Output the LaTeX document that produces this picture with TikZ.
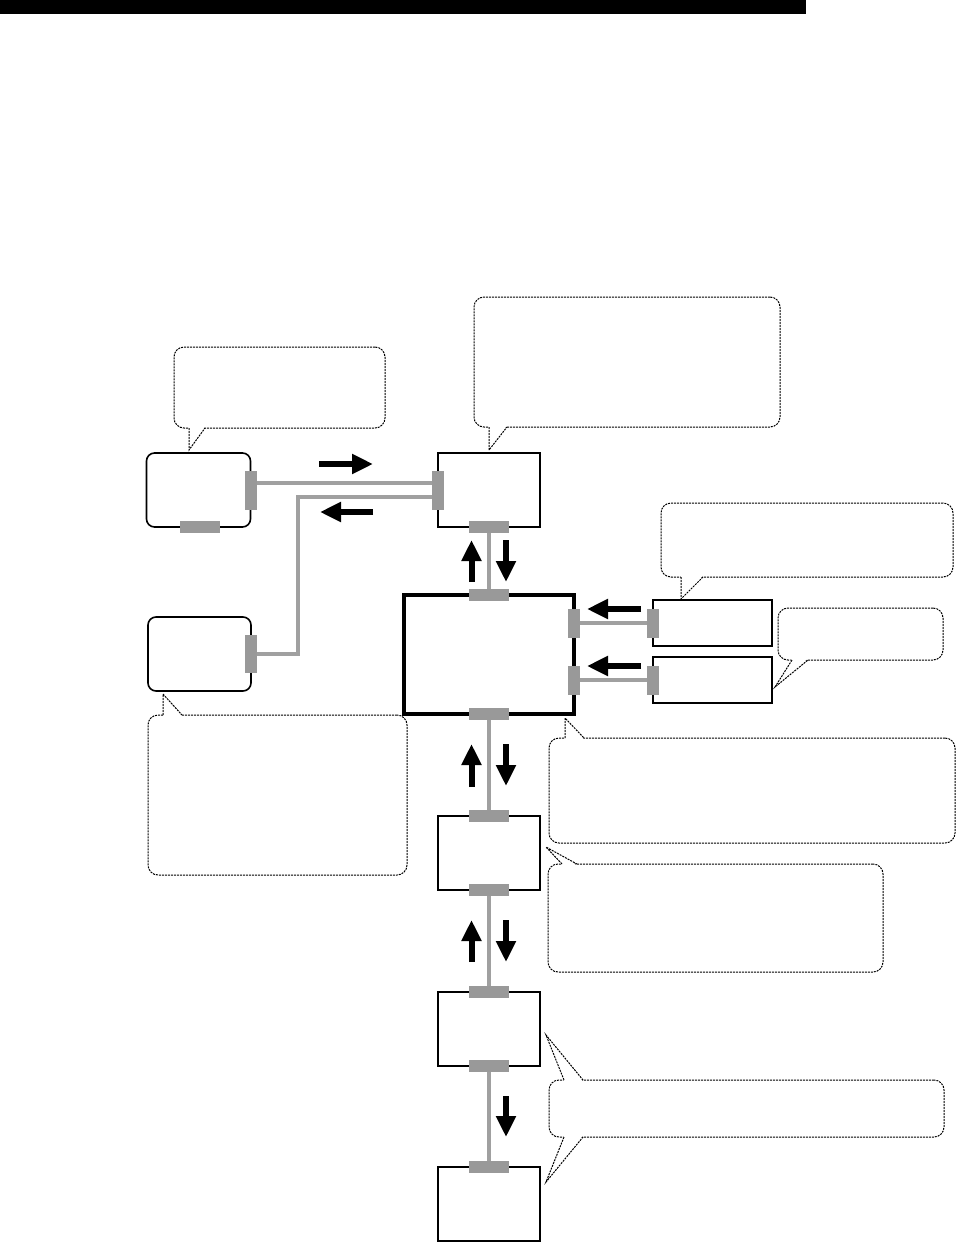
\documentclass[tikz,border=0pt]{standalone}
\usepackage{tikz}
\usetikzlibrary{arrows.meta, positioning, calc}
\definecolor{portgray}{RGB}{153,153,153}
\definecolor{cablegray}{RGB}{160,160,160}

\begin{document}
\begin{tikzpicture}[
    x=1pt, y=-1pt,
    box/.style={rectangle, draw, line width=1.6pt, minimum width=102pt, minimum height=74pt, inner sep=0pt, outer sep=0pt},
    mainbox/.style={box, line width=4pt, minimum width=170pt, minimum height=119pt},
    hport/.style={rectangle, fill=portgray, minimum width=40pt, minimum height=12pt, inner sep=0pt, outer sep=0pt},
    vport/.style={rectangle, fill=portgray, minimum width=12pt, minimum height=39pt, inner sep=0pt, outer sep=0pt},
    cable/.style={draw=cablegray, line width=4pt},
    flow/.style={-{Triangle[length=21pt, width=19pt]}, line width=6pt},
    notetail/.style={draw=black, line width=1pt, dash pattern=on 2pt off 1pt},
    note/.style={notetail, rectangle, rounded corners=10pt, minimum width=0pt, inner sep=0pt}
]
\useasboundingbox (0,0) rectangle (958,1243);

% header bar
\fill (0,0) rectangle (806,14);

% units
\node[box, rounded corners=8pt, minimum width=104pt] (A) at (198.5,490) {};
\node[box] (B) at (489,490) {};
\node[box, rounded corners=8pt, minimum width=103pt] (C) at (199.5,654) {};
\node[mainbox] (M) at (489,654.5) {};
\node[box, minimum width=119pt, minimum height=46pt] (D1) at (712.5,623) {};
\node[box, minimum width=119pt, minimum height=46pt] (D2) at (712.5,680) {};
\node[box] (E) at (489,853) {};
\node[box] (F) at (489,1029) {};
\node[box] (G) at (489,1204) {};

% ports
\node[hport] (A-b) at ([xshift=1.5pt]A.south) {};
\node[vport] (A-r) at (A.east) {};
\node[vport] (B-l) at (B.west) {};
\node[hport] (B-b) at (B.south) {};
\node[vport, minimum height=38pt] (C-r) at (C.east) {};
\node[hport] (M-t) at (M.north) {};
\node[hport] (M-b) at (M.south) {};
\node[vport, minimum height=29pt] (D1-l) at (D1.west) {};
\node[vport, minimum height=29pt] (D2-l) at (D2.west) {};
\node[vport, minimum height=29pt] (M-r1) at (M.east |- D1.west) {};
\node[vport, minimum height=29pt] (M-r2) at (M.east |- D2.west) {};
\node[hport] (E-t) at (E.north) {};
\node[hport] (E-b) at (E.south) {};
\node[hport] (F-t) at (F.north) {};
\node[hport] (F-b) at (F.south) {};
\node[hport] (G-t) at (G.north) {};

% cables
\draw[cable] ([yshift=7pt]A-r.east) -- ([yshift=7pt]B-l.west);
\draw[cable] ([yshift=-6.5pt]B-l.west) -| ($(C-r.east)+(41,0)$) -- (C-r.east);
\draw[cable] (B-b) -- (M-t);
\draw[cable] (M-r1) -- (D1-l);
\draw[cable] (M-r2) -- (D2-l);
\draw[cable] (M-b) -- (E-t);
\draw[cable] (E-b) -- (F-t);
\draw[cable] (F-b) -- (G-t);

% data flow
\draw[flow] (319,464) -- (373,464);
\draw[flow] (373,512) -- (320,512);
\draw[flow] (471.5,582) -- (471.5,540);
\draw[flow] (506,540) -- (506,582);
\draw[flow] (641,609) -- (587,609);
\draw[flow] (641,666) -- (587,666);
\draw[flow] (471.5,787) -- (471.5,744);
\draw[flow] (506,744) -- (506,786);
\draw[flow] (471.5,962) -- (471.5,920);
\draw[flow] (506,920) -- (506,962);
\draw[flow] (506,1096) -- (506,1137);

% callouts
\node[note, minimum width=211pt, minimum height=81pt] (nA) at (279.5,387.5) {};
\node[note, minimum width=306pt, minimum height=130pt] (nB) at (627,362) {};
\node[note, minimum width=292pt, minimum height=74pt] (nD) at (807,540) {};
\node[note, minimum width=165pt, minimum height=52pt] (nE) at (860.5,634) {};
\node[note, minimum width=259pt, minimum height=160pt] (nC) at (277.5,795) {};
\node[note, minimum width=406pt, minimum height=105pt] (nM) at (752,790.5) {};
\node[note, minimum width=335pt, minimum height=108pt] (nE2) at (715.5,918) {};
\node[note, minimum width=395pt, minimum height=57pt] (nF) at (746.5,1108.5) {};

\foreach \xa/\xb/\ye/\tx/\ty/\d in {
    189/205/428/189/450/-1.5,
    489/507/427/489/450/-1.5,
    681/703/577/681/599/-1.5,
    792/808/660/775/687/-1.5,
    163/182/715/163/694/1.5,
    565/584/738/565/718/1.5,
    562/577/864/546/847/1.5,
    564/583/1080/546/1035/1.5,
    564/583/1137/546/1182/-1.5} {
    \fill[white] (\xa,\ye+\d) -- (\tx,\ty) -- (\xb,\ye+\d) -- cycle;
    \draw[notetail] (\xa,\ye) -- (\tx,\ty) -- (\xb,\ye);
}

\end{tikzpicture}
\end{document}
